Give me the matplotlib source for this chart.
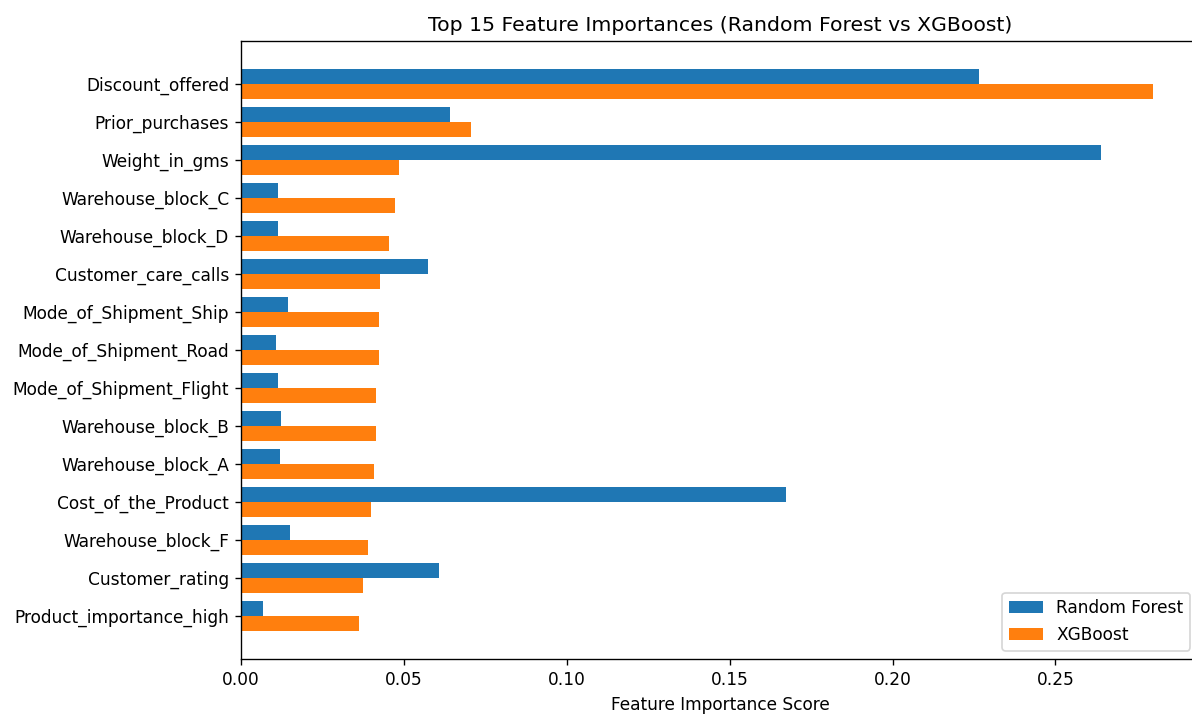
import numpy as np
import matplotlib
matplotlib.use("Agg")
import matplotlib.pyplot as plt

features = [
    "Discount_offered", "Prior_purchases", "Weight_in_gms",
    "Warehouse_block_C", "Warehouse_block_D", "Customer_care_calls",
    "Mode_of_Shipment_Ship", "Mode_of_Shipment_Road", "Mode_of_Shipment_Flight",
    "Warehouse_block_B", "Warehouse_block_A", "Cost_of_the_Product",
    "Warehouse_block_F", "Customer_rating", "Product_importance_high",
]
rf_importance = [0.2266, 0.0642, 0.2640, 0.0113, 0.0113, 0.0575, 0.0143,
                 0.0108, 0.0113, 0.0123, 0.0119, 0.1673, 0.0150, 0.0608, 0.0067]
xgb_importance = [0.2800, 0.0706, 0.0485, 0.0474, 0.0455, 0.0428, 0.0424,
                  0.0424, 0.0413, 0.0413, 0.0409, 0.0398, 0.0390, 0.0375, 0.0361]

W, H = 1192, 714
DPI = 122
fig = plt.figure(figsize=(W / DPI, H / DPI), dpi=DPI)
left, right, top, bottom = 241.0, 1198.8, 40.7, 659.0
ax = fig.add_axes([left / W, 1 - bottom / H, (right - left) / W, (bottom - top) / H])

y = np.arange(len(features))
h = 0.4
ax.barh(y - h / 2, rf_importance, h, label="Random Forest", color="#1f77b4")
ax.barh(y + h / 2, xgb_importance, h, label="XGBoost", color="#ff7f0e")
ax.set_yticks(y)
ax.set_yticklabels(features)
ax.invert_yaxis()
ax.set_xlabel("Feature Importance Score")
ax.set_title("Top 15 Feature Importances (Random Forest vs XGBoost)")
ax.legend(loc="lower right")

fig.savefig("out.png", dpi=DPI)
